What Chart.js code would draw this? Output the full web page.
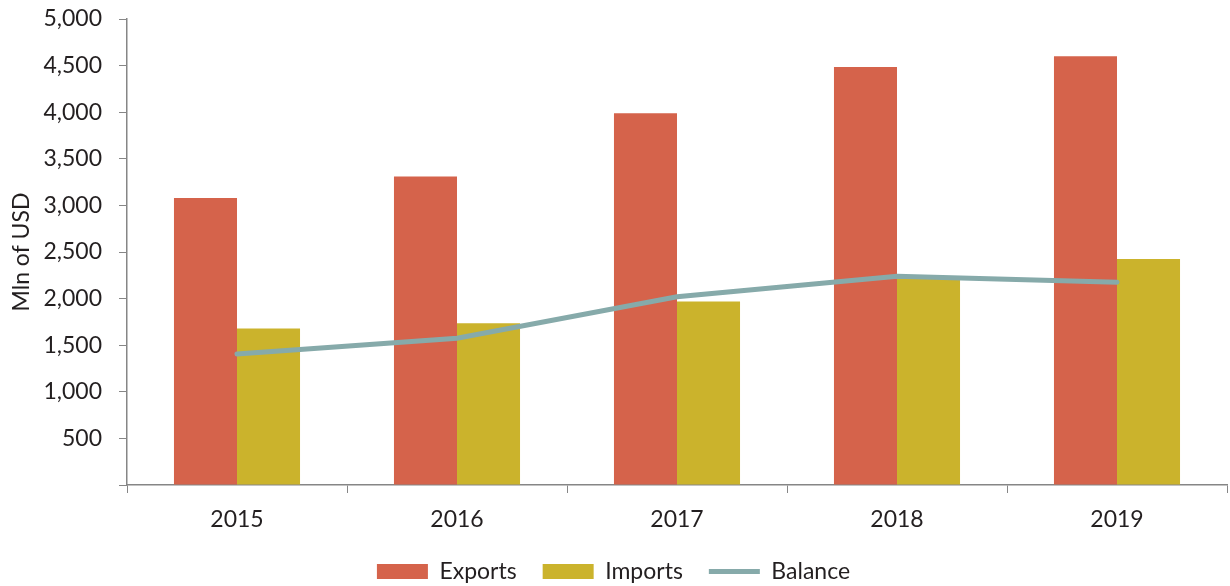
<!DOCTYPE html>
<html>
<head>
<meta charset="utf-8">
<script src="https://cdn.jsdelivr.net/npm/chart.js@4"></script>
<style>
    html, body { margin: 0; padding: 0; background: #ffffff; }
    #wrap { width: 1230px; height: 586px; position: relative; }
</style>
</head>
<body>
<div id="wrap"><canvas id="tradeChart"></canvas></div>
<script>
// values (Mln of USD)
const years = ['2015', '2016', '2017', '2018', '2019'];
const exportsData = [3080, 3310, 3990, 4485, 4600];
const importsData = [1680, 1735, 1970, 2215, 2425];
const balanceData = [1405, 1575, 2020, 2240, 2175];

const axisColor = '#868686';
const textColor = '#231f20';
const fontSize = 23;

Chart.defaults.font.family = 'Lato';
Chart.defaults.color = textColor;

const ctx = document.getElementById('tradeChart');

const tradeChart = new Chart(ctx, {
    type: 'bar',
    data: {
        labels: years,
        datasets: [{
            label: 'Exports',
            data: exportsData,
            backgroundColor: '#d5634b',
            borderWidth: 0,
            pointStyle: 'rect',
            categoryPercentage: 0.573,
            barPercentage: 1,
            order: 1
        }, {
            label: 'Imports',
            data: importsData,
            backgroundColor: '#cbb32c',
            borderWidth: 0,
            pointStyle: 'rect',
            categoryPercentage: 0.573,
            barPercentage: 1,
            order: 2
        }, {
            type: 'line',
            label: 'Balance',
            data: balanceData,
            borderColor: '#86aaaa',
            backgroundColor: '#86aaaa',
            borderWidth: 5,
            borderCapStyle: 'round',
            pointRadius: 0,
            pointHoverRadius: 0,
            pointStyle: 'line',
            tension: 0,
            order: 0
        }]
    },
    options: {
        responsive: true,
        maintainAspectRatio: false,
        animation: false,
        layout: {
            padding: {top: 19, right: 3, left: 0, bottom: -7}
        },
        plugins: {
            tooltip: {enabled: false},
            legend: {
                position: 'bottom',
                labels: {
                    usePointStyle: true,
                    pointStyleWidth: 51,
                    boxHeight: 15,
                    padding: 26,
                    font: {size: fontSize},
                    color: textColor,
                    sort: (a, b) => a.datasetIndex - b.datasetIndex
                }
            }
        },
        scales: {
            x: {
                grid: {
                    display: true,
                    drawOnChartArea: false,
                    offset: true,
                    color: axisColor,
                    tickLength: 8,
                    tickColor: axisColor
                },
                border: {color: axisColor, width: 1.5},
                ticks: {
                    font: {size: fontSize},
                    color: textColor,
                    padding: 13
                },
                afterFit: (scale) => {
                    scale.height = 49;
                }
            },
            y: {
                min: 0,
                max: 5000,
                grid: {
                    display: true,
                    drawOnChartArea: false,
                    color: axisColor,
                    tickLength: 8,
                    tickColor: axisColor
                },
                border: {color: axisColor, width: 1.5},
                ticks: {
                    stepSize: 500,
                    font: {size: fontSize},
                    color: textColor,
                    padding: 17,
                    callback: (value) => value === 0 ? '' : value.toLocaleString('en-US')
                },
                title: {
                    display: true,
                    text: 'Mln of USD',
                    font: {size: fontSize},
                    color: textColor,
                    padding: {top: 8, bottom: 0}
                },
                afterFit: (scale) => {
                    // fixed axis width, and no extra room reserved above/below for the tick labels
                    scale.width = 127;
                    scale.paddingTop = 0;
                    scale.paddingBottom = 0;
                }
            }
        }
    }
});
</script>
</body>
</html>
